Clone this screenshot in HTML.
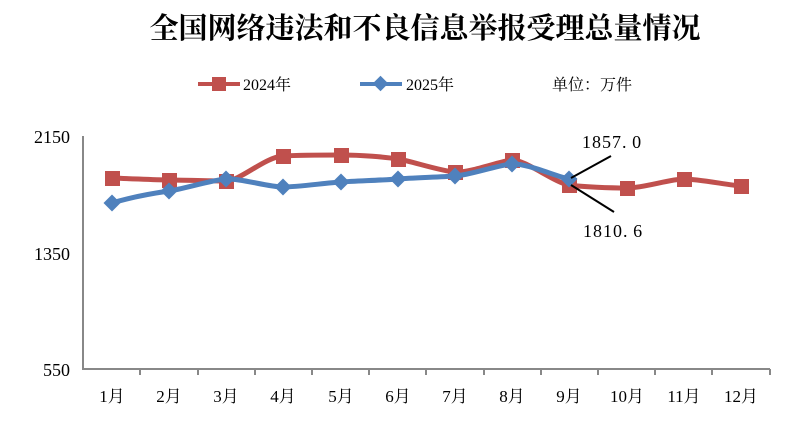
<!DOCTYPE html>
<html><head><meta charset="utf-8"><style>
body{margin:0;background:#fff;}
svg{display:block;font-family:"Liberation Serif","Noto Serif CJK SC",serif;}
</style></head><body>
<svg width="812" height="429" viewBox="0 0 812 429">
<text x="425" y="38" text-anchor="middle" font-size="29" font-weight="bold" font-family="'Noto Serif CJK SC','Noto Sans CJK SC',serif">全国网络违法和不良信息举报受理总量情况</text>
<line x1="198" y1="84" x2="240" y2="84" stroke="#c0504d" stroke-width="4"/>
<rect x="212" y="77" width="14" height="14" fill="#c0504d"/>
<text x="243" y="90" font-size="16" font-family="'Liberation Serif','Noto Serif CJK SC',serif">2024年</text>
<line x1="360" y1="84" x2="402" y2="84" stroke="#4f81bd" stroke-width="4"/>
<rect x="375" y="78" width="11" height="11" fill="#4f81bd" transform="rotate(45 380.5 83.5)"/>
<text x="406" y="90" font-size="16" font-family="'Liberation Serif','Noto Serif CJK SC',serif">2025年</text>
<text x="552" y="90" font-size="16" font-family="'Noto Serif CJK SC',serif">单位：万件</text>
<g stroke="#888" stroke-width="2" fill="none">
<line x1="83" y1="136" x2="83" y2="370"/>
<line x1="83" y1="369" x2="770" y2="369"/>
<line x1="140" y1="369" x2="140" y2="375"/><line x1="198" y1="369" x2="198" y2="375"/><line x1="255" y1="369" x2="255" y2="375"/><line x1="312" y1="369" x2="312" y2="375"/><line x1="369" y1="369" x2="369" y2="375"/><line x1="426" y1="369" x2="426" y2="375"/><line x1="484" y1="369" x2="484" y2="375"/><line x1="541" y1="369" x2="541" y2="375"/><line x1="598" y1="369" x2="598" y2="375"/><line x1="655" y1="369" x2="655" y2="375"/><line x1="712" y1="369" x2="712" y2="375"/><line x1="770" y1="369" x2="770" y2="375"/>
</g>
<g font-size="18" text-anchor="end">
<text x="70" y="143">2150</text><text x="70" y="260">1350</text><text x="70" y="376">550</text>
</g>
<g font-size="17" text-anchor="middle" font-family="'Liberation Serif','Noto Serif CJK SC',serif">
<text x="112" y="402">1月</text><text x="169" y="402">2月</text><text x="226" y="402">3月</text><text x="283" y="402">4月</text><text x="341" y="402">5月</text><text x="398" y="402">6月</text><text x="455" y="402">7月</text><text x="512" y="402">8月</text><text x="569" y="402">9月</text><text x="627" y="402">10月</text><text x="684" y="402">11月</text><text x="741" y="402">12月</text>
</g>
<path d="M112,178 C140,179 155,180 169,180 S212,181 226,181 S265,157 283,156 S320,155 341,155 S385,157 398,159 S440,171 455,172 S500,161 512,160 S555,183 569,185 S610,188 627,188 S670,179 684,179 S728,185 741,186" stroke="#c0504d" stroke-width="5" fill="none"/>
<g fill="#c0504d">
<rect x="105" y="171" width="15" height="15"/><rect x="162" y="173" width="15" height="15"/><rect x="219" y="174" width="15" height="15"/><rect x="276" y="149" width="15" height="15"/><rect x="334" y="148" width="15" height="15"/><rect x="391" y="152" width="15" height="15"/><rect x="448" y="165" width="15" height="15"/><rect x="505" y="153" width="15" height="15"/><rect x="562" y="178" width="15" height="15"/><rect x="620" y="181" width="15" height="15"/><rect x="677" y="172" width="15" height="15"/><rect x="734" y="179" width="15" height="15"/>
</g>
<path d="M112,203 C135,196 155,193 169,191 S212,180 226,179 S268,187 283,187 S325,183 341,182 S385,180 398,179 S440,177 455,176 S498,165 512,164 S555,176 569,179" stroke="#4f81bd" stroke-width="5" fill="none"/>
<g fill="#4f81bd">
<rect x="106" y="197" width="12" height="12" transform="rotate(45 112 203)"/><rect x="163" y="185" width="12" height="12" transform="rotate(45 169 191)"/><rect x="220" y="173" width="12" height="12" transform="rotate(45 226 179)"/><rect x="277" y="181" width="12" height="12" transform="rotate(45 283 187)"/><rect x="335" y="176" width="12" height="12" transform="rotate(45 341 182)"/><rect x="392" y="173" width="12" height="12" transform="rotate(45 398 179)"/><rect x="449" y="170" width="12" height="12" transform="rotate(45 455 176)"/><rect x="506" y="158" width="12" height="12" transform="rotate(45 512 164)"/><rect x="563" y="173" width="12" height="12" transform="rotate(45 569 179)"/>
</g>
<line x1="571" y1="178" x2="611" y2="156" stroke="#000" stroke-width="2"/>
<line x1="571" y1="185" x2="614" y2="212" stroke="#000" stroke-width="2"/>
<text x="582" y="148" font-size="18" font-family="'Liberation Serif','Noto Serif CJK SC',serif" letter-spacing="1">1857.&#8201;0</text>
<text x="583" y="237" font-size="18" font-family="'Liberation Serif','Noto Serif CJK SC',serif" letter-spacing="1">1810.&#8201;6</text>
</svg>
</body></html>
